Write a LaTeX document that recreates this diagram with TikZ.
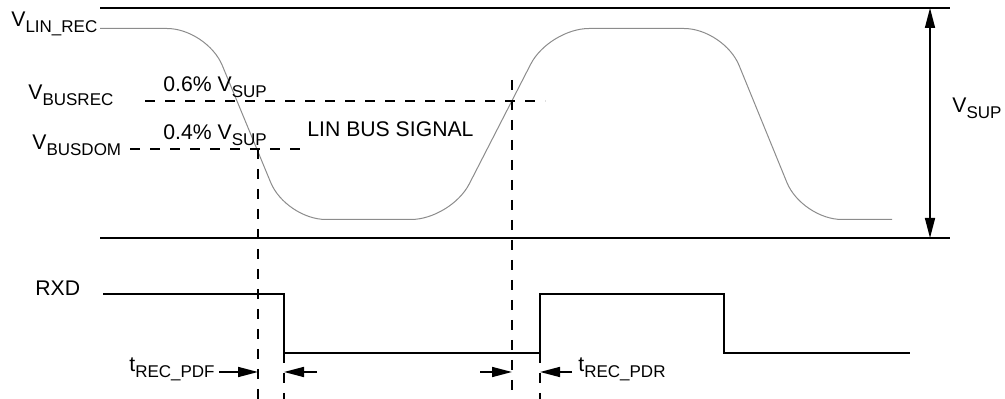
\documentclass[tikz,border=0pt]{standalone}
\usepackage{fontspec}
\setmainfont{Liberation Sans}
\usetikzlibrary{arrows.meta}
\newcommand{\pedice}[1]{\raisebox{-3pt}{\fontsize{8.5}{10}\selectfont #1}}

\begin{document}
\begin{tikzpicture}[x=0.5pt,y=-0.5pt,
        testo/.style={anchor=base west,inner sep=0pt,font=\fontsize{10.6}{12}\selectfont},
        linea/.style={line width=0.8pt},
        tratteggio/.style={line width=0.6pt,dash pattern=on 5pt off 5pt},
        freccia/.style={line width=0.8pt,-{Triangle[length=10pt,width=5pt]}},
        segnale/.style={line width=0.5pt,black!45,rounded corners=20pt}]
        \useasboundingbox (0,0) rectangle (1005,399);

        % Livelli del bus
        \draw[linea] (100,8) coordinate (alto) -- (950,8);
        \draw[linea] (100,238) coordinate (basso) -- (950,238);
        \coordinate (sup alto) at (930,8);
        \coordinate (sup basso) at (930,238);
        \draw[linea,{Triangle[length=10pt,width=5pt]}-{Triangle[length=10pt,width=5pt]}] (sup alto) -- (sup basso);
        \node[testo] (vsup) at (952,113) {V\pedice{SUP}};

        % Segnale LIN
        \draw[segnale] (100,28.5) -- (207,28.5) -- (286,219.5) -- (451,219.5)
            -- (549,28.5) -- (724,28.5) -- (802,219.5) -- (892,219.5);
        \node[testo] (vlin) at (11,27) {V\pedice{LIN\_REC}};
        \node[testo] (lin) at (307,137) {LIN BUS SIGNAL};

        % Soglie
        \coordinate (rec sx) at (145,101); \coordinate (rec dx) at (545,101);
        \coordinate (dom sx) at (130,149); \coordinate (dom dx) at (305,149);
        \draw[tratteggio] (rec sx) -- (rec dx);
        \draw[tratteggio] (dom sx) -- (dom dx);
        \node[testo] (vrec) at (28,100) {V\pedice{BUSREC}};
        \node[testo] (vdom) at (32,150) {V\pedice{BUSDOM}};
        \node[testo] (p06) at (163,92) {0.6\% V\pedice{SUP}};
        \node[testo] (p04) at (163,140) {0.4\% V\pedice{SUP}};

        % Uscita RXD
        \node[testo] (rxd) at (35,296) {RXD};
        \coordinate (giu) at (284,353); % fronte di discesa
        \coordinate (su) at (540,353); % fronte di salita
        \draw[linea] (103,294) -- (284,294) -- (giu) -- (su) -- (540,294)
            -- (724,294) -- (724,353) -- (910,353);

        % Linee di tempo
        \coordinate (c1) at (258,149);
        \coordinate (c2) at (512,80);
        \draw[tratteggio] (c1) -- (258,399);
        \draw[tratteggio] (c2) -- (512,399);
        \draw[tratteggio] (giu) -- (284,399);
        \draw[tratteggio] (su) -- (540,399);

        % Ritardi
        \node[testo] (tpdf) at (129,372) {t\pedice{REC\_PDF}};
        \node[testo] (tpdr) at (578,372) {t\pedice{REC\_PDR}};
        \coordinate (f1) at (317,372);
        \coordinate (f2) at (480,372);
        \draw[freccia] ([xshift=2pt]tpdf.base east) -- (tpdf.base east -| c1);
        \draw[freccia] (f1) -- (f1 -| giu);
        \draw[freccia] (f2) -- (f2 -| c2);
        \draw[freccia] ([xshift=-3pt]tpdr.base west) -- (tpdr.base west -| su);
\end{tikzpicture}
\end{document}
